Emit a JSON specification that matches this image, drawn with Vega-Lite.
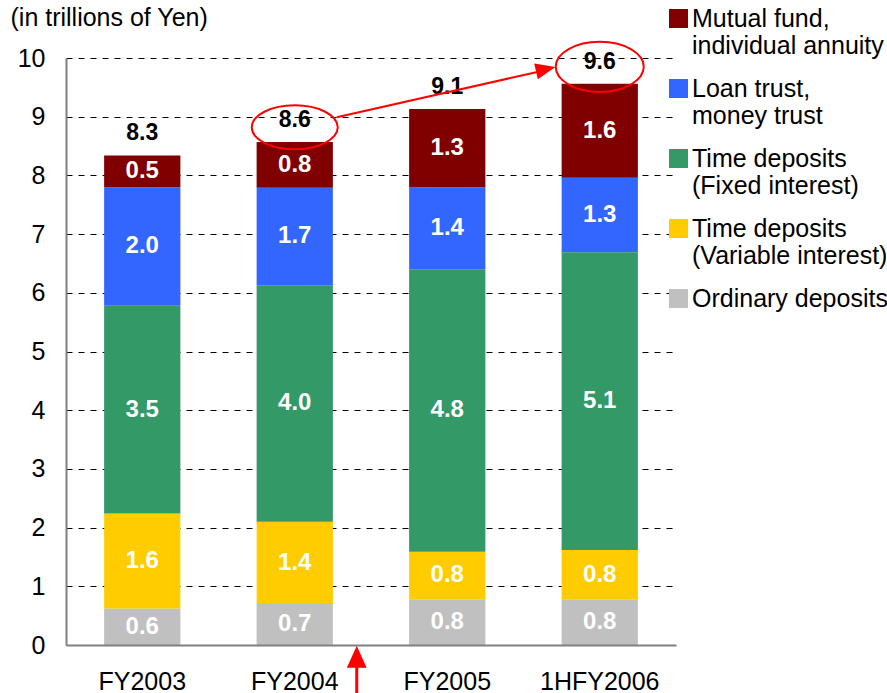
{
  "$schema": "https://vega.github.io/schema/vega-lite/v6.json",
  "width": 610,
  "height": 587,
  "autosize": {"type": "none"},
  "padding": {"left": 66, "top": 58, "right": 211, "bottom": 48},
  "background": "white",
  "config": {"view": {"stroke": null}, "font": "Liberation Sans"},
  "datasets": {
    "deposits": [
      {"year": "FY2003", "cat": "Ordinary deposits", "value": 0.62},
      {"year": "FY2003", "cat": "Time deposits (Variable interest)", "value": 1.62},
      {"year": "FY2003", "cat": "Time deposits (Fixed interest)", "value": 3.54},
      {"year": "FY2003", "cat": "Loan trust, money trust", "value": 2.02},
      {"year": "FY2003", "cat": "Mutual fund, individual annuity", "value": 0.54},
      {"year": "FY2004", "cat": "Ordinary deposits", "value": 0.70},
      {"year": "FY2004", "cat": "Time deposits (Variable interest)", "value": 1.40},
      {"year": "FY2004", "cat": "Time deposits (Fixed interest)", "value": 4.03},
      {"year": "FY2004", "cat": "Loan trust, money trust", "value": 1.66},
      {"year": "FY2004", "cat": "Mutual fund, individual annuity", "value": 0.78},
      {"year": "FY2005", "cat": "Ordinary deposits", "value": 0.78},
      {"year": "FY2005", "cat": "Time deposits (Variable interest)", "value": 0.81},
      {"year": "FY2005", "cat": "Time deposits (Fixed interest)", "value": 4.81},
      {"year": "FY2005", "cat": "Loan trust, money trust", "value": 1.40},
      {"year": "FY2005", "cat": "Mutual fund, individual annuity", "value": 1.33},
      {"year": "1HFY2006", "cat": "Ordinary deposits", "value": 0.78},
      {"year": "1HFY2006", "cat": "Time deposits (Variable interest)", "value": 0.84},
      {"year": "1HFY2006", "cat": "Time deposits (Fixed interest)", "value": 5.07},
      {"year": "1HFY2006", "cat": "Loan trust, money trust", "value": 1.27},
      {"year": "1HFY2006", "cat": "Mutual fund, individual annuity", "value": 1.60}
    ]
  },
  "encoding": {
    "x": {
      "field": "year",
      "type": "nominal",
      "scale": {"domain": ["FY2003", "FY2004", "FY2005", "1HFY2006"], "paddingInner": 0.5, "paddingOuter": 0.25},
      "axis": {"title": null, "labelAngle": 0, "labelFontSize": 25, "labelColor": "black", "labelPadding": 24, "ticks": false, "domainColor": "#808080", "domainWidth": 2, "zindex": 1}
    }
  },
  "layer": [
    {
      "data": {"name": "deposits"},
      "transform": [
        {"calculate": "indexof(['Ordinary deposits','Time deposits (Variable interest)','Time deposits (Fixed interest)','Loan trust, money trust','Mutual fund, individual annuity'], datum.cat)", "as": "ord"},
        {"stack": "value", "groupby": ["year"], "sort": [{"field": "ord", "order": "ascending"}], "as": ["v0", "v1"]},
        {"calculate": "(datum.v0 + datum.v1) / 2", "as": "mid"}
      ],
      "layer": [
        {
          "mark": {"type": "bar"},
          "encoding": {
            "y": {
              "field": "v0",
              "type": "quantitative",
              "scale": {"domain": [0, 10], "nice": false},
              "axis": {
                "title": "(in trillions of Yen)", "titleAngle": 0, "titleAlign": "left", "titleBaseline": "top",
                "titleX": -56, "titleY": -53, "titleFontSize": 25, "titleFontWeight": "normal", "titleColor": "black",
                "values": [0, 1, 2, 3, 4, 5, 6, 7, 8, 9, 10], "format": "d",
                "labelFontSize": 25, "labelColor": "black", "labelPadding": 21, "ticks": false,
                "domainColor": "#808080", "domainWidth": 2,
                "grid": true, "gridColor": "black", "gridDash": [6, 6], "gridWidth": 1
              }
            },
            "y2": {"field": "v1"},
            "color": {
              "field": "cat",
              "type": "nominal",
              "scale": {
                "domain": ["Mutual fund, individual annuity", "Loan trust, money trust", "Time deposits (Fixed interest)", "Time deposits (Variable interest)", "Ordinary deposits"],
                "range": ["#800000", "#3366FF", "#339966", "#FFCC00", "#C0C0C0"]
              },
              "legend": {
                "orient": "none", "legendX": 600, "legendY": -52, "title": null,
                "symbolType": "square", "symbolSize": 361, "symbolStrokeWidth": 0,
                "labelFontSize": 25, "labelLimit": 400, "labelColor": "black", "labelOffset": 1, "rowPadding": 17,
                "labelExpr": "split(replace(replace(datum.label, ', ', ',|'), ' (', '|('), '|')"
              }
            }
          }
        },
        {
          "mark": {"type": "text", "color": "white", "fontWeight": "bold", "fontSize": 24, "baseline": "middle"},
          "encoding": {
            "y": {"field": "mid", "type": "quantitative"},
            "text": {"field": "value", "type": "quantitative", "format": ".1f"}
          }
        }
      ]
    },
    {
      "data": {"name": "deposits"},
      "transform": [{"aggregate": [{"op": "sum", "field": "value", "as": "total"}], "groupby": ["year"]}],
      "mark": {"type": "text", "color": "black", "fontWeight": "bold", "fontSize": 23, "baseline": "alphabetic", "dy": -15},
      "encoding": {
        "y": {"field": "total", "type": "quantitative"},
        "text": {"field": "total", "type": "quantitative", "format": ".1f"}
      }
    },
    {
      "data": {"values": [{}]},
      "mark": {"type": "point", "shape": "M-1,0A1,0.51,0,1,1,1,0A1,0.51,0,1,1,-1,0Z", "size": 7396, "filled": false, "stroke": "red", "strokeWidth": 2, "opacity": 1},
      "encoding": {"x": {"datum": "FY2004", "type": "nominal"}, "y": {"datum": 8.82, "type": "quantitative"}}
    },
    {
      "data": {"values": [{}]},
      "mark": {"type": "point", "shape": "M-1,0A1,0.57,0,1,1,1,0A1,0.57,0,1,1,-1,0Z", "size": 7744, "filled": false, "stroke": "red", "strokeWidth": 2, "opacity": 1},
      "encoding": {"x": {"datum": "1HFY2006", "type": "nominal"}, "y": {"datum": 9.85, "type": "quantitative"}}
    },
    {
      "data": {"values": [{}]},
      "mark": {"type": "rule", "color": "red", "strokeWidth": 2, "xOffset": 42, "x2Offset": -50},
      "encoding": {
        "x": {"datum": "FY2004", "type": "nominal"},
        "x2": {"datum": "1HFY2006"},
        "y": {"datum": 8.99, "type": "quantitative"},
        "y2": {"datum": 9.81}
      }
    },
    {
      "data": {"values": [{}]},
      "mark": {"type": "point", "shape": "M-1,-0.8L1,0L-1,0.8Z", "size": 400, "filled": true, "color": "red", "opacity": 1, "angle": -13, "xOffset": -54},
      "encoding": {"x": {"datum": "1HFY2006", "type": "nominal"}, "y": {"datum": 9.81, "type": "quantitative"}}
    },
    {
      "data": {"values": [{}]},
      "mark": {"type": "rule", "color": "red", "strokeWidth": 3, "xOffset": 62},
      "encoding": {
        "x": {"datum": "FY2004", "type": "nominal"},
        "y": {"datum": -0.82, "type": "quantitative"},
        "y2": {"datum": -0.3}
      }
    },
    {
      "data": {"values": [{}]},
      "mark": {"type": "point", "shape": "M-0.9,1L0.9,1L0,-1Z", "size": 484, "filled": true, "color": "red", "opacity": 1, "xOffset": 62},
      "encoding": {"x": {"datum": "FY2004", "type": "nominal"}, "y": {"datum": -0.2, "type": "quantitative"}}
    }
  ]
}
